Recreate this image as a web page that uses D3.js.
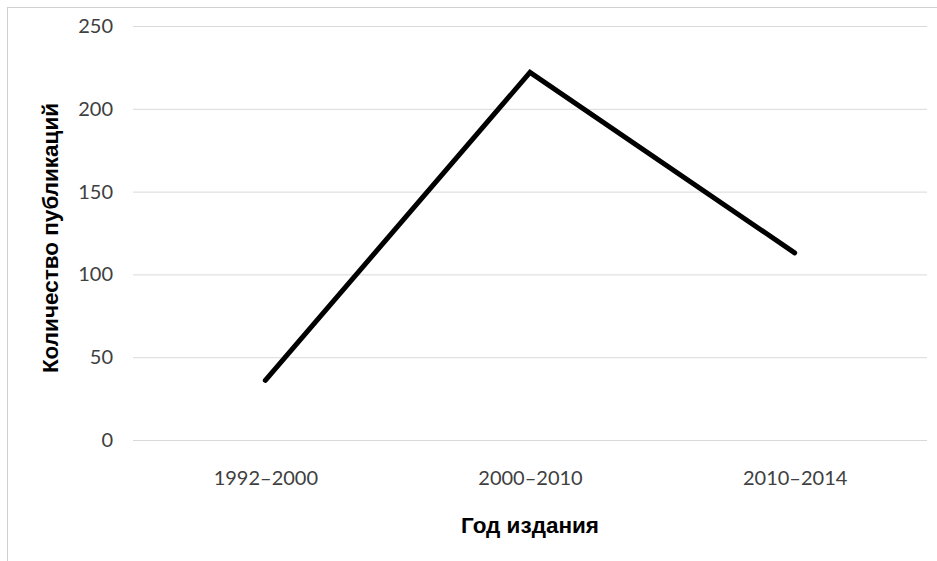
<!DOCTYPE html>
<html>
<head>
<meta charset="utf-8">
<script src="https://cdn.jsdelivr.net/npm/d3@7"></script>
<style>
  body { margin: 0; background: #fff; }
  text { font-family: Lato, "Open Sans", sans-serif; }
  .title { font-family: "Liberation Sans", Arial, sans-serif; }
</style>
</head>
<body>
<div class="chart"></div>
<script>
// periods and publication counts
const periods = ["1992–2000", "2000–2010", "2010–2014"]
const counts = [36, 222, 113]
const yTicks = [0, 50, 100, 150, 200, 250]

const width = 937, height = 561
const margin = {left: 133, top: 26, right: 10, bottom: 121}
const w = 927 - margin.left
const h = 440 - margin.top

const svg = d3.select(".chart").append("svg")
  .attr("width", width)
  .attr("height", height)

// outer chart frame
svg.append("rect")
  .attr("x", 7.5).attr("y", 7.5)
  .attr("width", width + 10).attr("height", height + 10)
  .attr("fill", "none")
  .attr("stroke", "#d0d0d0")

const g = svg.append("g").attr("transform", `translate(${margin.left},${margin.top})`)

const xScale = d3.scalePoint().domain(periods).range([0, w]).padding(0.5)
const yScale = d3.scaleLinear().domain([0, 250]).range([h, 0])

// gridlines + y labels
const yAxis = g.append("g").call(d3.axisLeft(yScale).tickValues(yTicks).tickSize(-w).tickPadding(20))
yAxis.select(".domain").remove()
yAxis.selectAll(".tick line").attr("stroke", "#d9d9d9")
yAxis.selectAll(".tick text").attr("fill", "#404040").style("font-size", "20px")

// x labels
const xAxis = g.append("g").attr("transform", `translate(0,${h})`)
  .call(d3.axisBottom(xScale).tickSize(0).tickPadding(31))
xAxis.select(".domain").remove()
xAxis.selectAll(".tick text").attr("fill", "#404040").style("font-size", "20px")

// line
const line = d3.line()
  .x((d, i) => xScale(periods[i]))
  .y(d => yScale(d))

g.append("path")
  .datum(counts)
  .attr("d", line)
  .attr("fill", "none")
  .attr("stroke", "#000")
  .attr("stroke-width", 5)
  .attr("stroke-linecap", "round")

// axis titles
svg.append("text")
  .attr("class", "title")
  .attr("x", 530).attr("y", 533)
  .attr("text-anchor", "middle")
  .attr("fill", "#000")
  .style("font-size", "22.5px").style("font-weight", "bold")
  .text("Год издания")

svg.append("text")
  .attr("class", "title")
  .attr("transform", `translate(58,238) rotate(-90)`)
  .attr("text-anchor", "middle")
  .attr("fill", "#000")
  .style("font-size", "22.5px").style("font-weight", "bold")
  .text("Количество публикаций")
</script>
</body>
</html>
